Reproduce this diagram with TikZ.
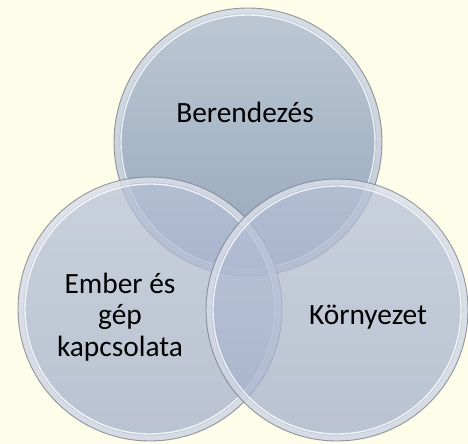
\documentclass[tikz,border=0pt]{standalone}
\usepackage{fontspec}
\setmainfont{Carlito}
\definecolor{bg}{RGB}{254,253,233}
\definecolor{topA}{RGB}{168,182,205}
\definecolor{topB}{RGB}{112,138,172}
\definecolor{sideA}{RGB}{184,194,216}
\definecolor{sideB}{RGB}{162,174,202}
\definecolor{edge}{RGB}{130,134,140}
\tikzset{
  disc/.style={top color=#1A, bottom color=#1B, fill opacity=0.74},
  rimband/.style={draw=white, draw opacity=0.4, line width=5bp},
  rimline/.style={draw=white, draw opacity=0.8, line width=1.4bp},
  outline/.style={draw=edge, line width=0.9bp, draw opacity=0.8},
  label/.style={font=\fontsize{29.5}{31.5}\selectfont, text=black, align=center, inner sep=0pt}
}
\begin{document}
\begin{tikzpicture}[x=1bp,y=-1bp]
\useasboundingbox (0,0) rectangle (468,444);
\fill[bg] (0,0) rectangle (468,444);
% top circle
\shade[disc=top] (248,142) circle[radius=134bp];
\path[rimband] (248,142) circle[radius=131bp];
\path[rimline] (248,142) circle[radius=127bp];
\path[outline] (248,142) circle[radius=134bp];
% left circle
\shade[disc=side] (150,309) circle[radius=132bp];
\path[rimband] (150,309) circle[radius=129bp];
\path[rimline] (150,309) circle[radius=125bp];
\path[outline] (150,309) circle[radius=132bp];
% right circle
\shade[disc=side] (337,310) circle[radius=131bp];
\path[rimband] (337,310) circle[radius=128bp];
\path[rimline] (337,310) circle[radius=124bp];
\path[outline] (337,310) circle[radius=131bp];
% labels
\node[label, anchor=base] (ber) at (245,123) {Berendezés};
\node[label, anchor=base] (kor) at (368,324) {Környezet};
\node[label] (emb) at (120,317) {Ember és\\gép\\kapcsolata};
\end{tikzpicture}
\end{document}
